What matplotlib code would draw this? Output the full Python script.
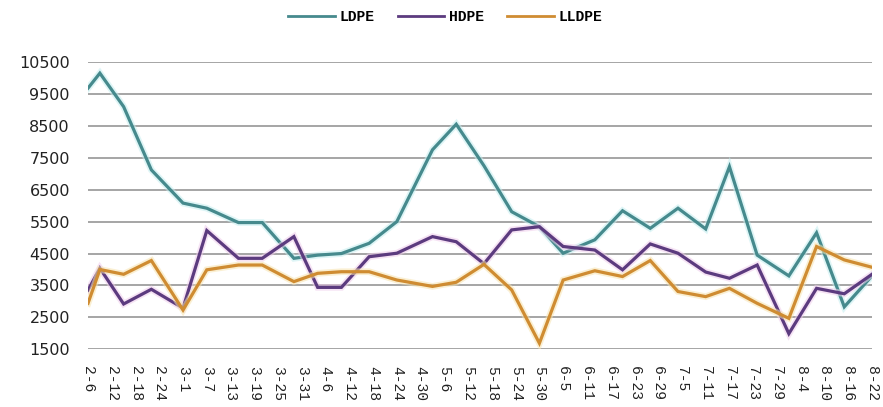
import datetime as dt

import matplotlib
matplotlib.use("Agg")
import matplotlib.pyplot as plt
import matplotlib.patheffects as pe

# weekly sample dates (month-day) and prices
dates = ["2-6", "2-9", "2-15", "2-22", "3-1", "3-7", "3-15", "3-21", "3-29",
         "4-4", "4-10", "4-17", "4-24", "5-3", "5-9", "5-16", "5-23", "5-30",
         "6-5", "6-13", "6-20", "6-27", "7-4", "7-11", "7-17", "7-24", "8-1",
         "8-8", "8-15", "8-22"]
ldpe = [9680, 10150, 9100, 7120, 6080, 5920, 5470, 5470, 4350,
        4450, 4500, 4820, 5500, 7750, 8550, 7250, 5810, 5340,
        4510, 4930, 5840, 5290, 5920, 5270, 7220, 4450, 3800,
        5150, 2830, 3800]
hdpe = [3350, 4040, 2920, 3380, 2790, 5220, 4350, 4350, 5030,
        3440, 3440, 4400, 4510, 5030, 4870, 4180, 5240, 5340,
        4720, 4610, 3990, 4800, 4510, 3920, 3725, 4140, 1990,
        3410, 3240, 3850]
lldpe = [2940, 4000, 3850, 4280, 2730, 3990, 4140, 4140, 3620,
         3880, 3930, 3930, 3670, 3470, 3600, 4160, 3360, 1690,
         3670, 3960, 3780, 4280, 3310, 3150, 3410, 2940, 2470,
         4720, 4300, 4070]

# axis labels every 6 days
tick_labels = ["2-6", "2-12", "2-18", "2-24", "3-1", "3-7", "3-13", "3-19",
               "3-25", "3-31", "4-6", "4-12", "4-18", "4-24", "4-30", "5-6",
               "5-12", "5-18", "5-24", "5-30", "6-5", "6-11", "6-17", "6-23",
               "6-29", "7-5", "7-11", "7-17", "7-23", "7-29", "8-4", "8-10",
               "8-16", "8-22"]
y_ticks = [1500, 2500, 3500, 4500, 5500, 6500, 7500, 8500, 9500, 10500]

YEAR = 2012  # leap year: 2-24 + 6 days = 3-1
start = dt.date(YEAR, 2, 6)


def day_of(md):
    m, d = md.split("-")
    return (dt.date(YEAR, int(m), int(d)) - start).days


x = [day_of(s) for s in dates]
xt = [day_of(s) for s in tick_labels]

fig = plt.figure(figsize=(8.83, 4.07), dpi=100)
ax = fig.add_axes([88 / 883, 1 - 349.3 / 407, (872 - 88) / 883, (349.3 - 62) / 407])

series = [
    ("LDPE", ldpe, "#468a8d", "#c4eef0"),
    ("HDPE", hdpe, "#5c3b7f", "#efcdec"),
    ("LLDPE", lldpe, "#cf8c32", "#f7e3ad"),
]
for name, vals, color, glow in series:
    ax.plot(x, vals, color=color, lw=2.3, label=name, solid_joinstyle="miter",
            path_effects=[pe.Stroke(linewidth=4.8, foreground=glow, alpha=0.55),
                          pe.Normal()])

ax.set_xlim(0, xt[-1])
ax.set_ylim(1500, 10500)
ax.set_yticks(y_ticks)
ax.set_yticklabels([str(v) for v in y_ticks], fontsize=11.5,
                   family="DejaVu Sans", color="#222222")
ax.set_xticks(xt)
ax.set_xticklabels(tick_labels, rotation=-90, fontsize=10.5,
                   family="Liberation Mono", color="#222222",
                   ha="center", va="top")
ax.tick_params(axis="both", length=0)
ax.tick_params(axis="y", pad=13)
ax.tick_params(axis="x", pad=12)
for sp in ax.spines.values():
    sp.set_visible(False)
ax.yaxis.grid(True, color="#9e9e9e", lw=1.3)
ax.xaxis.grid(False)
ax.set_axisbelow(True)

leg = fig.legend(loc="center", bbox_to_anchor=(445 / 883, 1 - 17 / 407),
                 ncol=3, frameon=False, handlelength=3.2, columnspacing=1.6,
                 handletextpad=0.3,
                 prop={"family": "Liberation Mono", "size": 10.5, "weight": "bold"})
for h in leg.get_lines():
    h.set_linewidth(2)
    h.set_path_effects([])

fig.savefig("out.png", dpi=100)
